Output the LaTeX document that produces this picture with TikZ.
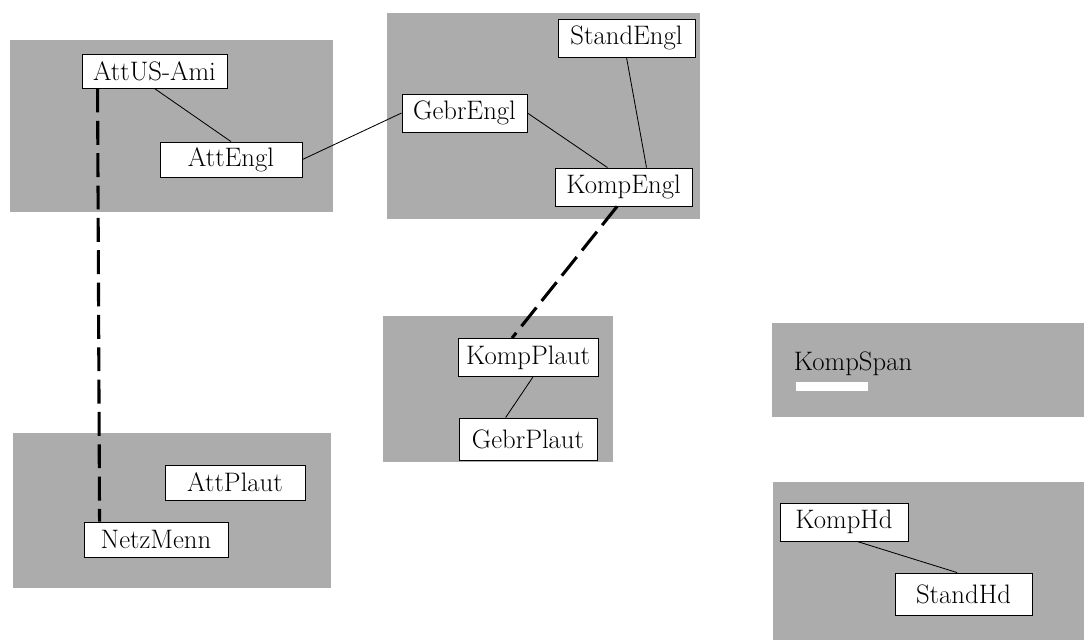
\documentclass[tikz,border=0pt]{standalone}
\usepackage{tikz}
\usetikzlibrary{calc}
\definecolor{panelgray}{RGB}{172,172,172}
\tikzset{
    panel/.style={fill=panelgray,draw=none},
    termbox/.style={draw=black,fill=white,semithick,minimum height=0.95cm,inner sep=2pt,
        font=\fontsize{19}{21}\selectfont},
    link/.style={semithick},
    dashlink/.style={line width=2.2pt,dash pattern=on 17pt off 6pt}
}
\begin{document}
\begin{tikzpicture}[x=0.025cm,y=-0.025cm]
    \useasboundingbox (0,0) rectangle (1084,640);
    % Panels
    \fill[panel] (10,40) rectangle (333,212);
    \fill[panel] (387,13) rectangle (700,219);
    \fill[panel] (383,316) rectangle (613,462);
    \fill[panel] (772,323) rectangle (1084,417);
    \fill[panel] (773,482) rectangle (1084,640);
    \fill[panel] (13,433) rectangle (331,588);
    % English group
    \node[termbox,minimum width=3.625cm,minimum height=0.83cm] (AttUSAmi) at (154.5,71.5) {AttUS-Ami};
    \node[termbox,minimum width=3.55cm,minimum height=0.875cm] (AttEngl) at (231,159.5) {AttEngl};
    \node[termbox,minimum width=3.125cm] (GebrEngl) at (464.5,113) {GebrEngl};
    \node[termbox,minimum width=3.425cm] (StandEngl) at (626.5,38) {StandEngl};
    \node[termbox,minimum width=3.425cm] (KompEngl) at (623.5,187) {KompEngl};
    % Plaut group
    \node[termbox,minimum width=3.5cm] (KompPlaut) at (528,357.5) {KompPlaut};
    \node[termbox,minimum width=3.45cm,minimum height=1.05cm] (GebrPlaut) at (528,439) {GebrPlaut};
    \node[termbox,minimum width=3.5cm,minimum height=0.875cm] (AttPlaut) at (235,482.5) {AttPlaut};
    \node[termbox,minimum width=3.6cm,minimum height=0.875cm] (NetzMenn) at (156,539.5) {NetzMenn};
    % Spanish and Hd
    \node[font=\fontsize{19}{21}\selectfont,inner sep=0pt] (KompSpan) at (853,364) {KompSpan};
    \fill[white] ($(KompSpan.south west)+(2,6)$) rectangle ($(KompSpan.south west)+(74,15)$);
    \node[termbox,minimum width=3.2cm] (KompHd) at (844,522) {KompHd};
    \node[termbox,minimum width=3.425cm,minimum height=1.05cm] (StandHd) at (963.5,594) {StandHd};
    % Links
    \draw[link] (AttUSAmi.south) -- (AttEngl.north);
    \draw[link] (AttEngl.east) -- (GebrEngl.west);
    \draw[link] (GebrEngl.east) -- ([xshift=-0.4cm]KompEngl.north);
    \draw[link] (StandEngl.south) -- ([xshift=0.575cm]KompEngl.north);
    \draw[link] ([xshift=0.125cm]KompPlaut.south) -- ([xshift=-0.56cm]GebrPlaut.north);
    \draw[link] ([xshift=0.325cm]KompHd.south) -- ([xshift=-0.16cm]StandHd.north);
    % Dashed links
    \draw[dashlink] ([xshift=-0.16cm]KompEngl.south) -- ([xshift=-0.4cm]KompPlaut.north);
    \draw[dashlink] ([xshift=0.4cm]AttUSAmi.south west) -- ([xshift=0.4cm]NetzMenn.north west);
\end{tikzpicture}
\end{document}
